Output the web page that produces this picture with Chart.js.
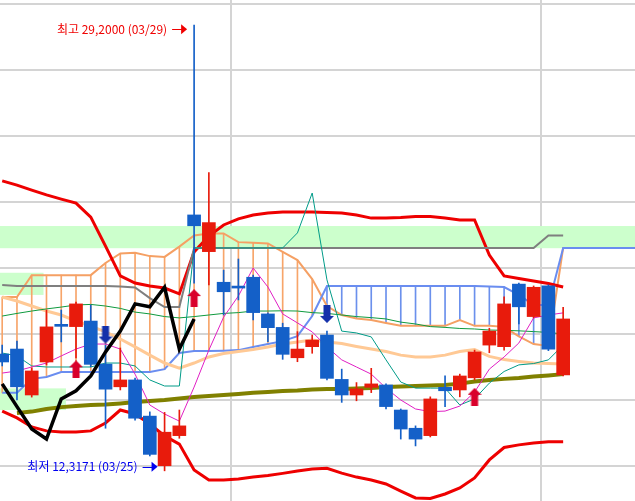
<!DOCTYPE html>
<html>
<head>
<meta charset="utf-8">
<script src="https://cdn.jsdelivr.net/npm/chart.js@4.4.1/dist/chart.umd.min.js"></script>
<style>
  html, body { margin: 0; padding: 0; background: #fff; }
  #wrap { width: 635px; height: 501px; position: relative; }
</style>
</head>
<body>
<div id="wrap"><canvas id="priceChart"></canvas></div>
<script>
// trading days shown (MM/DD)
const dates = ["03/10","03/11","03/14","03/15","03/16","03/17","03/18","03/21","03/22","03/23",
  "03/24","03/25","03/28","03/29","03/30","03/31","04/01","04/04","04/05","04/06",
  "04/07","04/08","04/11","04/12","04/13","04/14","04/15","04/18","04/19","04/20",
  "04/21","04/22","04/25","04/26","04/27","04/28","04/29","05/02","05/03"];

const opens = [16.74,16.93,15.19,16.44,17.84,17.78,17.99,16.36,15.50,15.76,
  14.39,12.51,13.65,22.01,20.62,19.46,19.30,19.65,18.26,17.75,
  16.60,17.02,17.46,15.78,15.19,15.48,15.57,14.62,13.93,13.65,
  15.48,15.38,15.84,17.08,17.02,19.39,18.16,19.32,15.95];
const highs = [17.08,17.23,16.21,18.41,18.41,18.71,18.60,17.08,16.97,15.83,
  14.55,14.53,14.62,29.20,23.61,19.92,20.34,19.73,18.30,17.91,
  17.59,17.46,17.61,16.17,15.66,16.20,15.61,14.66,14.02,15.12,
  15.92,15.98,16.89,17.72,18.91,19.43,19.32,19.36,18.51];
const lows = [16.29,15.00,15.11,16.33,17.20,16.59,16.26,13.93,15.38,14.24,
  12.88,12.3171,13.55,19.43,19.36,18.22,18.79,18.03,17.21,16.54,
  16.45,16.77,15.76,14.91,14.97,15.28,14.66,13.52,13.26,13.60,
  14.75,15.12,15.76,16.79,16.89,17.88,18.11,16.87,15.91];
const closes = [16.44,15.50,16.10,17.77,17.79,18.64,16.35,15.41,15.76,14.31,
  12.94,13.78,14.02,21.60,21.72,19.10,19.24,18.31,17.74,16.73,
  16.93,17.27,15.82,15.19,15.42,15.61,14.75,13.90,13.52,15.04,
  15.35,15.91,16.82,17.61,18.64,18.53,19.27,16.93,18.07];

// bollinger bands
const bbUpper = [23.30,23.14,22.95,22.77,22.61,22.46,21.93,20.83,19.70,19.43,
  19.32,19.24,19.02,20.61,21.21,21.63,21.86,22.01,22.08,22.12,
  22.12,22.12,22.10,22.08,22.01,21.89,21.89,21.91,21.95,21.95,
  21.89,21.82,21.82,20.49,19.70,19.60,19.51,19.41,19.28];
const bbMiddle = [18.90,18.75,18.56,18.37,18.22,17.99,17.80,17.58,17.31,17.01,
  16.70,16.40,16.21,16.40,16.63,16.76,16.84,16.91,17.01,17.12,
  17.20,17.27,17.20,17.14,17.03,16.93,16.84,16.70,16.63,16.63,
  16.70,16.84,16.91,16.65,16.53,16.46,16.40,16.38,16.36];
const bbLower = [14.58,14.32,13.98,13.83,13.79,13.79,13.83,14.13,14.62,14.47,
  14.09,13.64,13.33,12.35,11.97,11.97,12.01,12.08,12.14,12.22,
  12.31,12.39,12.41,12.23,12.08,11.97,11.82,11.55,11.29,11.27,
  11.44,11.67,12.05,12.73,13.20,13.30,13.37,13.42,13.42];

// moving averages
const ma5 = [16.02,16.10,16.25,16.40,16.67,16.93,17.12,17.12,16.93,15.98,
  14.81,14.47,14.20,15.49,16.89,18.14,18.94,20.00,19.28,18.26,
  17.92,17.58,17.01,16.52,16.25,15.98,15.45,15.00,14.66,14.56,
  14.58,14.77,15.30,16.17,16.63,17.16,18.11,18.22,18.30];
const ma60 = [18.18,18.28,18.37,18.45,18.52,18.60,18.62,18.56,18.47,18.33,
  18.26,18.16,18.11,18.16,18.22,18.28,18.31,18.37,18.37,18.38,
  18.37,18.31,18.28,18.22,18.16,18.12,18.07,17.95,17.88,17.78,
  17.75,17.71,17.69,17.65,17.64,17.62,17.59,17.56,17.50];
const ma120 = [null,14.51,14.56,14.66,14.73,14.77,14.81,14.83,14.87,14.92,
  14.96,15.00,15.06,15.11,15.15,15.19,15.23,15.27,15.30,15.34,
  15.36,15.40,15.42,15.42,15.44,15.45,15.49,15.51,15.53,15.55,
  15.57,15.62,15.70,15.76,15.80,15.83,15.89,15.93,15.98];

// ichimoku
const tenkan = [16.78,16.67,16.29,16.25,16.25,16.25,16.25,16.40,16.40,16.29,
  15.76,15.53,15.53,20.76,20.76,20.76,20.76,20.76,20.76,20.76,
  21.33,22.84,19.55,17.61,17.54,17.39,16.52,15.68,15.45,15.45,
  15.45,14.81,15.04,15.64,16.08,16.33,16.38,16.52,17.08];
const kijun = [19.36,19.32,19.32,19.32,19.32,19.32,19.32,19.32,19.30,19.26,
  18.86,18.52,18.52,20.76,20.76,20.76,20.76,20.76,20.76,20.76,
  20.76,20.76,20.76,20.76,20.76,20.76,20.76,20.76,20.76,20.76,
  20.76,20.76,20.76,20.76,20.76,20.76,20.76,21.23,21.23];
const spanA = [18.90,18.90,19.73,19.73,19.73,19.73,19.73,20.19,20.55,20.58,
  20.45,20.42,20.81,21.23,21.31,21.31,20.98,20.96,20.93,20.61,
  20.30,19.58,18.56,18.22,18.09,18.03,17.92,17.81,17.81,17.81,
  17.81,18.03,17.81,17.81,17.77,17.41,17.12,17.05,20.76,20.76,
  20.76,20.76,20.76,20.76];
const spanB = [15.27,15.27,15.80,15.87,16.06,16.06,16.06,16.06,16.06,16.06,
  16.06,16.17,16.78,16.86,16.86,16.87,16.89,17.01,17.12,17.23,
  17.42,18.18,19.32,19.32,19.32,19.32,19.32,19.32,19.32,19.32,
  19.32,19.32,19.32,19.30,19.28,18.98,18.60,18.60,20.76,20.76,
  20.76,20.76,20.76,20.76];
const laggingShift = 25;

// signal arrows
const buyIdx = [5, 13, 32];
const buyAt = [16.16, 18.86, 15.12];
const sellIdx = [7, 22];
const sellAt = [17.48, 18.26];

// shaded price bands (left edge to bandReach)
const bandLows = [20.75, 18.98, 14.62];
const bandHighs = [21.59, 19.82, 15.44];
const bandReach = [43, 2.8, 4.32];

const yGridValues = [12.5, 15, 17.5, 20, 22.5, 25, 27.5, 30];

const UP = "#E81B0C", DOWN = "#1460C8";

const monthBreaks = [];
for (let i = 1; i < dates.length; i++) {
  if (dates[i].slice(0, 2) !== dates[i - 1].slice(0, 2)) monthBreaks.push(i - 0.5);
}

const pts = arr => arr.map((v, i) => ({x: i, y: v})).filter(p => p.y !== null);
const candleColors = closes.map((c, i) => c >= opens[i] ? UP : DOWN);

const hatchData = [], hatchColors = [];
dates.forEach((d, i) => {
  if (spanA[i] === spanB[i]) return;
  hatchData.push({x: i, y: [spanA[i], spanB[i]]});
  hatchColors.push(spanA[i] > spanB[i] ? "#F7A56A" : "#6B90EC");
});

const lagging = closes.slice(laggingShift).map((v, i) => ({x: i, y: v}));

function arrowImage(color, up) {
  const c = document.createElement("canvas");
  c.width = 14; c.height = 18;
  const g = c.getContext("2d");
  g.fillStyle = color;
  g.beginPath();
  if (up) {
    g.moveTo(7, 0); g.lineTo(14, 7); g.lineTo(10.5, 7); g.lineTo(10.5, 18);
    g.lineTo(3.5, 18); g.lineTo(3.5, 7); g.lineTo(0, 7);
  } else {
    g.moveTo(3.5, 0); g.lineTo(10.5, 0); g.lineTo(10.5, 11); g.lineTo(14, 11);
    g.lineTo(7, 18); g.lineTo(0, 11); g.lineTo(3.5, 11);
  }
  g.closePath();
  g.fill();
  return c;
}

const fmt = v => v.toFixed(4).replace(".", ",");

function drawMark(ctx, text, color, tipX, tipY) {
  ctx.fillStyle = color;
  ctx.strokeStyle = color;
  ctx.font = '12px "Noto Sans CJK KR", sans-serif';
  ctx.textAlign = "right";
  ctx.textBaseline = "middle";
  ctx.fillText(text, tipX - 20, tipY);
  ctx.lineWidth = 1;
  ctx.beginPath();
  ctx.moveTo(tipX - 15, Math.round(tipY) + 0.5);
  ctx.lineTo(tipX - 5, Math.round(tipY) + 0.5);
  ctx.stroke();
  ctx.beginPath();
  ctx.moveTo(tipX, tipY);
  ctx.lineTo(tipX - 6, tipY - 5);
  ctx.lineTo(tipX - 6, tipY + 5);
  ctx.closePath();
  ctx.fill();
}

const overlay = {
  id: "overlay",
  beforeDatasetsDraw(chart) {
    const {ctx, chartArea, scales: {x, y}} = chart;
    ctx.save();
    ctx.fillStyle = "#CCFFCC";
    bandLows.forEach((lo, i) => {
      const right = Math.min(x.getPixelForValue(bandReach[i]), chartArea.right);
      const top = y.getPixelForValue(bandHighs[i]);
      const bottom = y.getPixelForValue(lo);
      ctx.fillRect(chartArea.left, top, right - chartArea.left, bottom - top);
    });
    ctx.restore();
  },
  afterDatasetsDraw(chart) {
    const {ctx, scales: {x, y}} = chart;
    const hi = highs.indexOf(Math.max(...highs));
    const lo = lows.indexOf(Math.min(...lows));
    ctx.save();
    drawMark(ctx, "최고 " + fmt(highs[hi]) + " (" + dates[hi] + ")", "#F00000",
      x.getPixelForValue(hi) - 7, y.getPixelForValue(highs[hi]) + 4);
    drawMark(ctx, "최저 " + fmt(lows[lo]) + " (" + dates[lo] + ")", "#0000F0",
      x.getPixelForValue(lo) - 7, y.getPixelForValue(lows[lo]) - 4);
    ctx.restore();
  }
};

const line = (data, color, width, order) => ({
  type: "line", data, borderColor: color, borderWidth: width,
  pointRadius: 0, tension: 0, fill: false, order
});

new Chart(document.getElementById("priceChart"), {
  type: "bar",
  data: {
    datasets: [
      {type: "scatter", data: buyIdx.map((d, i) => ({x: d, y: buyAt[i]})),
        pointStyle: arrowImage("#D9002B", true), pointRadius: 9, order: 0},
      {type: "scatter", data: sellIdx.map((d, i) => ({x: d, y: sellAt[i]})),
        pointStyle: arrowImage("#1430AA", false), pointRadius: 9, order: 0},
      line(lagging, "#000000", 3.5, 1),
      {type: "bar", data: opens.map((o, i) => ({x: i, y: [o, closes[i]]})),
        backgroundColor: candleColors, barThickness: 13, minBarLength: 2, grouped: false, order: 2},
      {type: "bar", data: lows.map((l, i) => ({x: i, y: [l, highs[i]]})),
        backgroundColor: candleColors, barThickness: 1, grouped: false, order: 3},
      line(pts(ma5), "#E01FC4", 1, 4),
      line(pts(tenkan), "#009B88", 1, 5),
      line(pts(ma60), "#0E9A3E", 1, 6),
      line(pts(kijun), "#7F7F7F", 2, 7),
      line(pts(bbMiddle), "#FFC995", 3, 8),
      line(pts(ma120), "#808000", 4, 9),
      line(pts(bbUpper), "#EE0000", 3, 10),
      line(pts(bbLower), "#EE0000", 3, 10),
      line(pts(spanB), "#6A8DF0", 2, 11),
      line(pts(spanA), "#F5A064", 2, 12),
      {type: "bar", data: hatchData, backgroundColor: hatchColors,
        barThickness: 1, grouped: false, order: 13}
    ]
  },
  options: {
    responsive: true,
    maintainAspectRatio: false,
    animation: false,
    events: [],
    layout: {padding: 0, autoPadding: false},
    plugins: {legend: {display: false}, tooltip: {enabled: false}},
    scales: {
      x: {
        type: "linear", min: -0.149, max: 42.867, offset: false,
        afterBuildTicks: s => { s.ticks = monthBreaks.map(v => ({value: v})); },
        afterFit: s => { s.height = 0; },
        ticks: {display: false},
        border: {display: false},
        grid: {color: "#D4D4D4", lineWidth: 2, drawTicks: false, offset: false}
      },
      y: {
        type: "linear", min: 11.174, max: 30.152,
        afterBuildTicks: s => { s.ticks = yGridValues.map(v => ({value: v})); },
        afterFit: s => { s.width = 0; },
        ticks: {display: false},
        border: {display: false},
        grid: {color: "#D4D4D4", lineWidth: 2, drawTicks: false}
      }
    }
  },
  plugins: [overlay]
});
</script>
</body>
</html>
